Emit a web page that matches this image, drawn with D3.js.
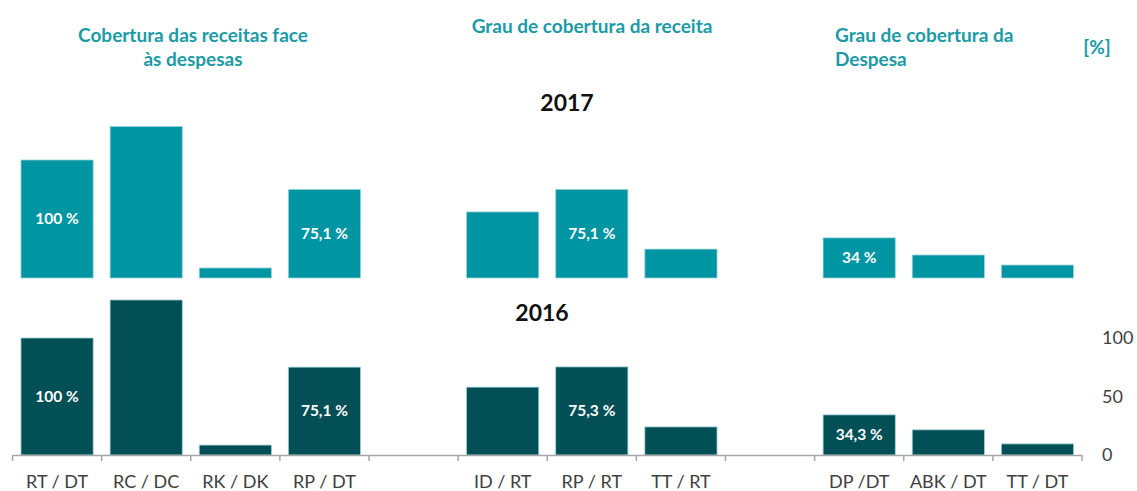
<!DOCTYPE html>
<html><head><meta charset="utf-8">
<script src="https://cdn.jsdelivr.net/npm/d3@7"></script>
<style>body{margin:0;background:#fff}svg{display:block}text{font-family:Lato,"Open Sans",sans-serif}</style>
</head><body><svg id="c" width="1137" height="491"></svg>
<script>
const categories = ["RT / DT","RC / DC","RK / DK","RP / DT","gap1","ID / RT","RP / RT","TT / RT","gap2","DP /DT","ABK / DT","TT / DT"];
const tickLabels = ["RT / DT","RC / DC","RK / DK","RP / DT","","ID / RT","RP / RT","TT / RT","","DP /DT","ABK / DT","TT / DT"];
const values2017 = [100, 128.5, 8.5, 75.1, null, 56, 75.1, 24.5, null, 34, 19.5, 11];
const values2016 = [100, 132.5, 8.5, 75.1, null, 58, 75.3, 24, null, 34.3, 21.5, 9.5];
const labels2017 = ["100 %", null, null, "75,1 %", null, null, "75,1 %", null, null, "34 %", null, null];
const labels2016 = ["100 %", null, null, "75,1 %", null, null, "75,3 %", null, null, "34,3 %", null, null];
const yTicks = [0, 50, 100];

const svg = d3.select("#c");
const x = d3.scaleBand().domain(categories).range([12.5, 1082]).paddingInner(0.19).paddingOuter(0.095);
const y16 = d3.scaleLinear().domain([0, 100]).range([455, 338]);
const y17 = d3.scaleLinear().domain([0, 100]).range([278, 160]);
const c17 = "#0095a2", c16 = "#034f56";

function drawBars(vals, labs, y, color) {
  const g = svg.append("g");
  const data = categories.map((c, i) => ({c, v: vals[i], l: labs[i]})).filter(d => d.v != null);
  g.selectAll("rect").data(data).join("rect")
    .attr("x", d => x(d.c)).attr("width", x.bandwidth())
    .attr("y", d => y(d.v)).attr("height", d => y(0) - y(d.v))
    .attr("fill", color).attr("stroke", "#9fd3d8").attr("stroke-width", 0.8);
  g.selectAll("text").data(data.filter(d => d.l)).join("text")
    .attr("x", d => x(d.c) + x.bandwidth() / 2)
    .attr("y", d => (y(d.v) + y(0)) / 2)
    .attr("dy", "0.35em").attr("text-anchor", "middle")
    .attr("fill", "#fff").attr("font-weight", "bold").attr("font-size", 15.5)
    .text(d => d.l);
}
drawBars(values2017, labels2017, y17, c17);
drawBars(values2016, labels2016, y16, c16);

// bottom axis
const edges = d3.range(categories.length + 1).map(i => 12.5 + i * (1082 - 12.5) / categories.length);
const ax = svg.append("g");
ax.append("line").attr("x1", edges[0]).attr("x2", edges[edges.length - 1]).attr("y1", 455.5).attr("y2", 455.5)
  .attr("stroke", "#a6a6a6").attr("stroke-width", 1.5);
ax.selectAll("line.t").data(edges).join("line").attr("class", "t")
  .attr("x1", d => d).attr("x2", d => d).attr("y1", 455).attr("y2", 461)
  .attr("stroke", "#a6a6a6").attr("stroke-width", 1.5);
ax.selectAll("text").data(categories).join("text")
  .attr("x", d => x(d) + x.bandwidth() / 2).attr("y", 488)
  .attr("text-anchor", "middle").attr("font-size", 18).attr("fill", "#404040")
  .text((d, i) => tickLabels[i]);

// right axis
const ry = d3.axisRight(y16).tickValues(yTicks).tickSize(0).tickPadding(0);
const rg = svg.append("g").attr("transform", "translate(1102,0)").call(ry);
rg.select(".domain").remove();
rg.selectAll("text").attr("font-size", 18).attr("fill", "#404040").attr("font-family", "Lato,sans-serif");

// titles
const tc = "#1b9ba6";
function t(txt, xx, yy, anchor, size, color, weight) {
  svg.append("text").attr("x", xx).attr("y", yy).attr("text-anchor", anchor)
    .attr("font-size", size).attr("fill", color).attr("font-weight", weight).text(txt);
}
t("Cobertura das receitas face", 193, 42, "middle", 19, tc, "bold");
t("às despesas", 193, 66, "middle", 19, tc, "bold");
t("Grau de cobertura da receita", 592, 33, "middle", 19, tc, "bold");
t("Grau de cobertura da", 835, 42, "start", 19, tc, "bold");
t("Despesa", 835, 66, "start", 19, tc, "bold");
t("[%]", 1097, 54, "middle", 19, tc, "bold");
t("2017", 567, 111, "middle", 23, "#111", "bold");
t("2016", 542, 321, "middle", 23, "#111", "bold");
</script></body></html>
